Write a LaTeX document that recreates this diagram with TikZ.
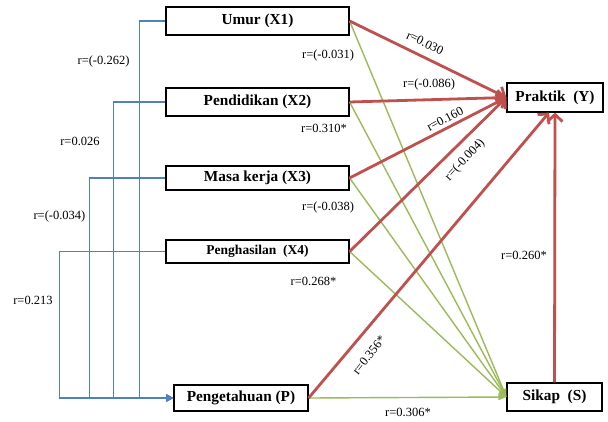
\documentclass[tikz,border=0pt]{standalone}
\usepackage{fontspec}
\setmainfont{Liberation Serif}
\usepackage{xcolor}
\usetikzlibrary{arrows.meta}

\definecolor{pathred}{RGB}{192,80,77}
\definecolor{pathgreen}{RGB}{155,187,89}
\definecolor{corrblue}{RGB}{79,129,189}

\begin{document}
\begin{tikzpicture}[x=1pt, y=-1pt,
    varbox/.style={draw=black, line width=1.2pt, fill=white, inner sep=0pt,
        font=\fontsize{15.3}{17}\selectfont\bfseries},
    lbl/.style={font=\fontsize{12.5}{14}\selectfont, inner sep=1pt},
    rline/.style={pathred, line width=2.8pt, -{Straight Barb[length=7pt, width=15pt]}},
    gline/.style={pathgreen, line width=1.4pt, -{Triangle[length=8pt, width=6pt]}},
    bline/.style={corrblue, line width=1.6pt, -{Triangle[length=7pt, width=7pt]}}]
    \useasboundingbox (0,0) rectangle (608,421);

    % Variables
    \node[varbox, minimum width=183pt, minimum height=28pt] (x1) at (257.5,21) {Umur (X1)};
    \node[varbox, minimum width=183pt, minimum height=28pt] (x2) at (257.5,102) {Pendidikan (X2)};
    \node[varbox, minimum width=183pt, minimum height=24pt] (x3) at (257.5,178) {Masa kerja (X3)};
    \node[varbox, minimum width=183pt, minimum height=23pt,
        font=\fontsize{13.5}{15}\selectfont\bfseries] (x4) at (257.5,251.5) {Penghasilan~ (X4)};
    \node[varbox, minimum width=134pt, minimum height=26pt] (p) at (241,398) {Pengetahuan (P)};
    \node[varbox, minimum width=96pt, minimum height=29pt] (y) at (555,97.5) {Praktik~ (Y)};
    \node[varbox, minimum width=95pt, minimum height=28pt] (s) at (554.5,397) {Sikap~ (S)};

    % Correlations with knowledge
    \draw[bline] (x1.west) -- ++(-26,0) |- (p.west);
    \draw[bline] (x2.west) -- ++(-52,0) |- (p.west);
    \draw[bline] (x3.west) -- ++(-76,0) |- (p.west);
    \draw[bline] (x4.west) -- ++(-106,0) |- (p.west);

    % Paths to attitude
    \draw[gline] (x1.east) -- (s.west);
    \draw[gline] (x2.east) -- (s.west);
    \draw[gline] (x3.east) -- (s.west);
    \draw[gline] (x4.east) -- (s.west);
    \draw[gline] (p.east) -- (s.west);

    % Paths to practice
    \draw[rline] (x1.east) -- (y.west);
    \draw[rline] (x2.east) -- (y.west);
    \draw[rline] (x3.east) -- (y.west);
    \draw[rline] (x4.east) -- (y.west);
    \draw[rline] (p.east) -- ([xshift=-6pt]y.south);
    \draw[rline] (s.north) -- (y.south);

    % Labels
    \node[lbl] (rb1) at (103.5,61) {r=(-0.262)};
    \node[lbl] (rb2) at (80,141) {r=0.026};
    \node[lbl] (rb3) at (59.5,216) {r=(-0.034)};
    \node[lbl] (rb4) at (33,300) {r=0.213};
    \node[lbl] (rg1) at (328,55) {r=(-0.031)};
    \node[lbl] (rg2) at (324,128) {r=0.310*};
    \node[lbl] (rg3) at (328,207) {r=(-0.038)};
    \node[lbl] (rg4) at (313.5,281) {r=0.268*};
    \node[lbl] (rg5) at (408,412) {r=0.306*};
    \node[lbl, rotate=-26] (rr1) at (425,43) {r=0.030};
    \node[lbl] (rr2) at (429,84) {r=(-0.086)};
    \node[lbl, rotate=28] (rr3) at (445,119) {r=0.160};
    \node[lbl, rotate=47] (rr4) at (465,160) {r=(-0.004)};
    \node[lbl, rotate=52] (rr5) at (369,355) {r=0.356*};
    \node[lbl] (rr6) at (524,255) {r=0.260*};
\end{tikzpicture}
\end{document}
